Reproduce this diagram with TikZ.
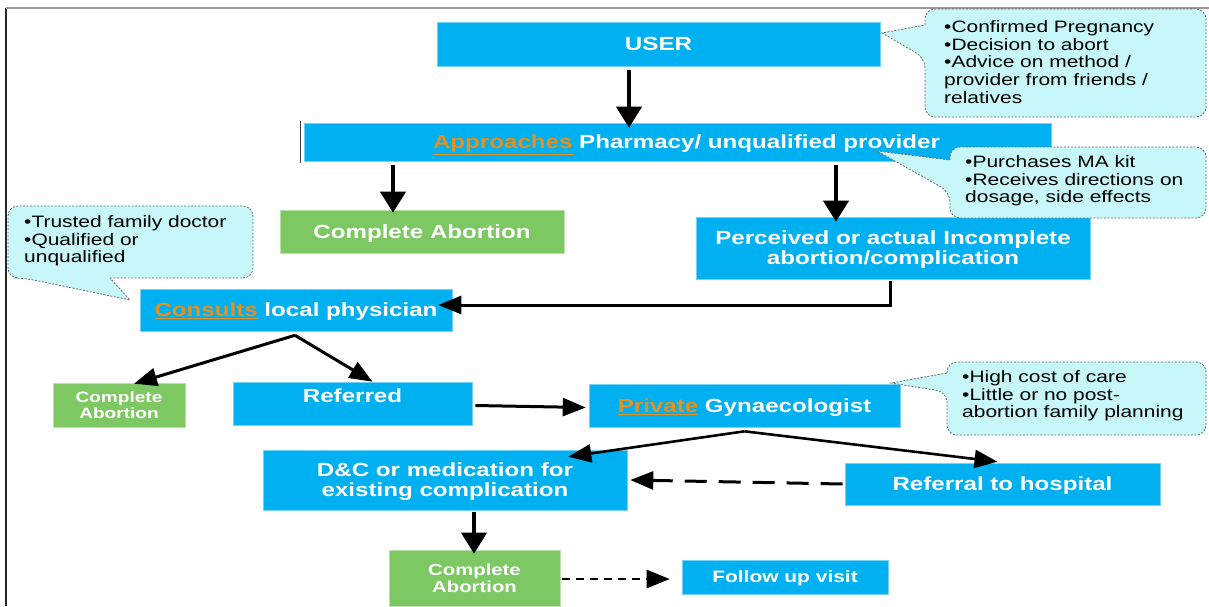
\documentclass[tikz,border=0pt]{standalone}
\usepackage{fontspec}
\setmainfont{Liberation Sans}
\newfontfamily\bxf{Liberation Sans}[FakeStretch=1.27]
\usetikzlibrary{arrows.meta,calc}
\definecolor{bblue}{RGB}{0,176,240}
\definecolor{bgreen}{RGB}{125,200,98}
\definecolor{borange}{RGB}{230,145,30}
\definecolor{cfill}{RGB}{200,247,250}
\definecolor{cline}{RGB}{110,110,110}
\newcommand{\hl}[1]{\textcolor{borange}{\smash{\underline{#1}}}}
\begin{document}
\begin{tikzpicture}[x=1pt,y=-1pt,
 box/.style={fill=bblue, draw=bblue!55!white, line width=0.6pt, inner sep=0pt, text=white,
   font=\bxf\bfseries\fontsize{19}{20}\selectfont, align=center},
 gbox/.style={box, fill=bgreen, draw=bgreen!55!white},
 oneline/.style={text height=#1, text depth=0pt},
 oneline/.default=13.6pt,
 twoline/.style={text depth=0pt},
 arr/.style={line width=3pt, -{Triangle[length=23pt,width=18pt]}},
 varr/.style={line width=4pt, -{Triangle[length=21pt,width=25pt]}},
 callout/.style={fill=cfill, draw=cline, dash pattern=on 2pt off 1.5pt, line width=0.8pt},
 ctext/.style={font=\bxf\fontsize{16.5}{17.7}\selectfont, align=left, anchor=west, inner sep=0pt, text=black},
]
\useasboundingbox (0,0) rectangle (1209,606);
\fill[white] (0,0) rectangle (1209,606);
% frame
\draw[black!85, line width=2pt] (6,8) -- (6,606);
\draw[black!40, line width=1.5pt] (6,8) -- (1209,8);

% boxes
\node[box, oneline, minimum width=443pt, minimum height=44pt] (user) at (658.5,44) {USER};
\node[box, oneline, minimum width=747pt, minimum height=38pt] (appr) at (677.5,142) {\hspace{18pt}\hl{Approaches} Pharmacy/ unqualified provider};
\node[gbox, oneline, minimum width=284pt, minimum height=43pt] (ca1) at (422,231.5) {Complete Abortion};
\node[box, twoline, minimum width=394pt, minimum height=62pt] (perc) at (893,248) {Perceived or actual Incomplete\\abortion/complication};
\node[box, oneline, minimum width=312pt, minimum height=42pt] (cons) at (296,310) {\hl{Consults} local physician};
\node[gbox, twoline, minimum width=132pt, minimum height=44pt, font=\bxf\bfseries\fontsize{15}{16}\selectfont] (ca2) at (119,405) {Complete\\Abortion};
\node[box, oneline, minimum width=239pt, minimum height=43pt] (ref) at (352.5,403.5) {\raisebox{8pt}[\height][\depth]{Referred}};
\node[box, oneline, minimum width=311pt, minimum height=43pt] (priv) at (744.5,405.5) {\hl{Private} Gynaecologist};
\node[box, twoline, minimum width=364pt, minimum height=60pt] (dc) at (445,480) {D\&C or medication for\\existing complication};
\node[box, oneline, minimum width=315pt, minimum height=42pt] (hosp) at (1002.5,484) {Referral to hospital};
\node[gbox, twoline, minimum width=171pt, minimum height=56pt, font=\bxf\bfseries\fontsize{16}{17}\selectfont] (ca3) at (474.5,578) {Complete\\Abortion};
\node[box, oneline=11.8pt, minimum width=206pt, minimum height=34pt, font=\bxf\bfseries\fontsize{16.5}{18}\selectfont] (fu) at (785,577) {Follow up visit};

\draw[black!75, line width=1pt] ($(appr.north west)+(-3,-2)$) -- ($(appr.south west)+(-3,2)$);

% connectors
\coordinate (x1) at (629,0);
\coordinate (x2) at (393,0);
\coordinate (x3) at (836,0);
\coordinate (k4) at (890,305);
\coordinate (x11) at (474,0);
\draw[varr] ($(user.south -| x1)+(0,4)$) -- ($(appr.north -| x1)+(0,5)$);
\draw[varr] ($(appr.south -| x2)+(0,4)$) -- ($(ca1.north -| x2)+(0,3)$);
\draw[varr] ($(appr.south -| x3)+(0,4)$) -- ($(perc.north -| x3)+(0,5)$);
\draw[arr] ($(perc.south -| k4)+(0,2)$) -- (k4) -- ($(cons.east |- k4)+(-14,0)$);
\draw[arr] ($(cons.south)+(-1,4)$) -- ($(ca2.north)+(15,1)$);
\draw[arr] ($(cons.south)+(-1,4)$) -- ($(ref.north)+(20,0)$);
\draw[arr] ($(ref.east)+(3,2)$) -- ($(priv.west)+(-3,2)$);
\draw[arr, line width=2.6pt] ($(priv.south)+(0,4)$) -- ($(dc.north east)+(-59,7)$);
\draw[arr, line width=2.6pt] ($(priv.south)+(0,4)$) -- ($(hosp.north)+(-5,-1)$);
\draw[arr, dash pattern=on 22pt off 12pt] ($(hosp.west)+(-2,0)$) -- ($(dc.east)+(3,0)$);
\draw[varr] ($(dc.south -| x11)+(0,2)$) -- ($(ca3.north -| x11)+(0,4)$);
\draw[arr, line width=2.6pt, dash pattern=on 8pt off 6pt] ($(ca3.east)+(2,1)$) -- ($(fu.west)+(-12,2)$);

% callouts
\draw[callout] (925,25) [rounded corners=10pt] -- (925,9) -- (1206,9) -- (1206,117) -- (925,117) -- (925,58) [sharp corners] -- (882,33) -- cycle;
\draw[callout] (950,160) [rounded corners=10pt] -- (950,147) -- (1206,147) -- (1206,218) -- (950,218) -- (950,192) [sharp corners] -- (877,151) -- cycle;
\draw[callout] (110,278) [rounded corners=10pt] -- (253,278) -- (253,206) -- (8,206) -- (8,278) -- (24,278) [sharp corners] -- (130,300) -- cycle;
\draw[callout] (947,373) [rounded corners=10pt] -- (947,362) -- (1206,362) -- (1206,435) -- (947,435) -- (947,392) [sharp corners] -- (891,383) -- cycle;

\node[ctext] (t1) at (944,62) {•Confirmed Pregnancy\\•Decision to abort\\•Advice on method /\\provider from friends /\\relatives};
\node[ctext] (t2) at (965,181) {•Purchases MA kit\\•Receives directions on\\dosage, side effects};
\node[ctext] (t3) at (24,241) {•Trusted family doctor\\•Qualified or\\unqualified};
\node[ctext] (t4) at (962,396) {•High cost of care\\•Little or no post-\\abortion family planning};
\end{tikzpicture}
\end{document}
